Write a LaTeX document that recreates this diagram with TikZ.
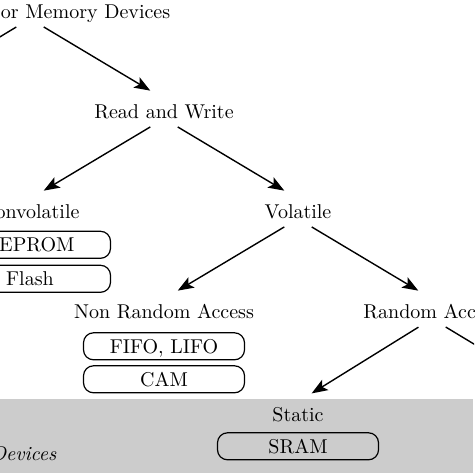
\documentclass[tikz,border=0pt]{standalone}
\usetikzlibrary{arrows.meta,positioning}
\tikzset{
  lbl/.style={inner sep=0pt, text height=9.25pt, text depth=0pt},
  memcell/.style={draw, rounded corners=5pt, line width=0.6pt, minimum width=80.5pt,
    minimum height=13.5pt, inner sep=0pt, text height=6.8pt, text depth=0pt},
  link/.style={->, shorten <=8pt, shorten >=8pt},
}
\begin{document}
\begin{tikzpicture}[>={Stealth[length=8pt,width=6pt,inset=1.8pt]}, line width=0.7pt, node distance=70.71pt]
  \path[use as bounding box, clip] (0,0) rectangle (237pt,-237pt);
  % shaded band
  \fill[black!20] (-1pt,-199.5pt) rectangle (236.3pt,-236.3pt);
  \node (devices) [anchor=base east, inner sep=0pt, font=\itshape] at (28.5pt,-230pt) {Devices};
  % tree
  \node[lbl] (root) at (15pt,-4.4pt) {Semiconductor Memory Devices};
  \node[lbl] (rw) [below right of=root, xshift=17pt] {Read and Write};
  \node[lbl] (nonvol) [below left of=rw, xshift=-17pt] {Nonvolatile};
  \node[lbl] (vol) [below right of=rw, xshift=17pt] {Volatile};
  \node[lbl] (nra) [below left of=vol, xshift=-17pt] {Non Random Access};
  \node[lbl] (ra) [below right of=vol, xshift=17pt] {Random Access};
  \node[lbl] (static) [below left of=ra, xshift=-17pt, yshift=-1.5pt] {Static};
  \coordinate[below left of=root, xshift=-17pt, yshift=4.6pt] (ro);
  \coordinate[below right of=ra, xshift=17pt, yshift=4.6pt] (dyn);
  % cells
  \node[memcell] (eeprom) [below of=nonvol, node distance=18pt] {EEPROM};
  \node[memcell] (flash) [below of=eeprom, node distance=17pt] {Flash};
  \node[memcell] (fifo) [below of=nra, node distance=18.75pt] {FIFO, LIFO};
  \node[memcell] (cam) [below of=fifo, node distance=16.5pt] {CAM};
  \node[memcell] (sram) [below of=static, node distance=17.25pt] {SRAM};
  % arrows
  \draw[link] (root.south) -- (ro);
  \draw[link] (root.south) -- (rw.north);
  \draw[link] (rw.south) -- (nonvol.north);
  \draw[link] (rw.south) -- (vol.north);
  \draw[link] (vol.south) -- (nra.north);
  \draw[link] (vol.south) -- (ra.north);
  \draw[link] (ra.south) -- (static.north);
  \draw[link] (ra.south) -- (dyn);
\end{tikzpicture}
\end{document}
